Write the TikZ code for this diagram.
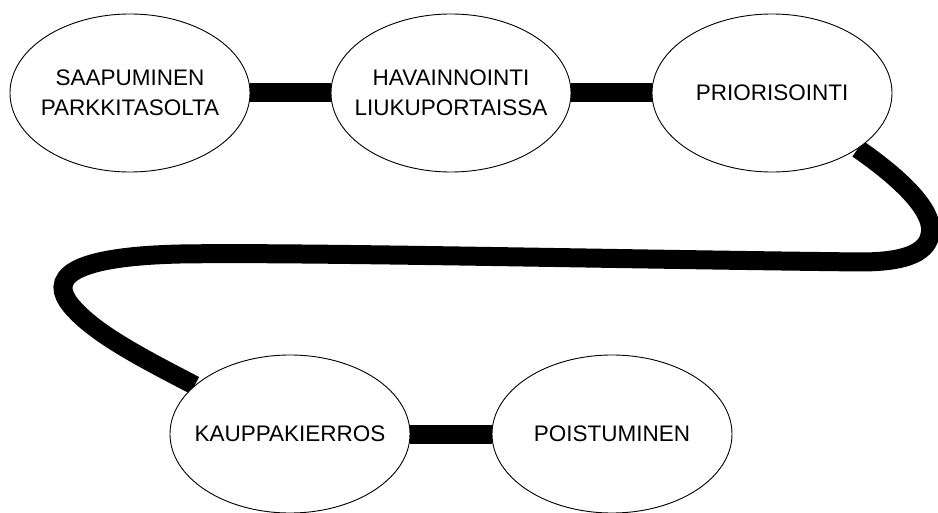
\documentclass[tikz,border=0pt]{standalone}
\usepackage{fontspec}
\setmainfont{Liberation Sans}
\usetikzlibrary{shapes.geometric}
\begin{document}
\begin{tikzpicture}[x=1pt,y=1pt,
  stage/.style={ellipse,draw=black,line width=0.9pt,fill=white,minimum width=240pt,minimum height=158pt,inner sep=0pt},
  ghost/.style={stage,draw=none,fill=none},
  label/.style={align=center,inner sep=0pt,font=\fontsize{22.5}{29.5}\selectfont},
  link/.style={line width=19pt,black}]
\useasboundingbox (0,0) rectangle (938,-513);
\path (130,-93) coordinate (c1) (451,-93) coordinate (c2) (772,-93) coordinate (c3)
      (290,-434) coordinate (c4) (612,-434) coordinate (c5);
% connectors first (drawn beneath the ellipses)
\path (c1) node[ghost] (a) {}
      (c2) node[ghost] (b) {}
      (c3) node[ghost] (c) {}
      (c4) node[ghost] (d) {}
      (c5) node[ghost] (e) {};
\coordinate (r1) at (930,-235);
\coordinate (r2) at (860,-262);
\coordinate (l1) at (180,-254);
\coordinate (l2) at (75,-310);
\draw[link] (a) -- (b);
\draw[link] (b) -- (c);
\draw[link] (d) -- (e);
\draw[link] (c.-33) .. controls (910,-185) and (935,-215) .. (r1)
  .. controls (926,-255) and (900,-262) .. (r2)
  .. controls (600,-259) and (300,-252) .. (l1)
  .. controls (50,-257) and (52,-286) .. (l2)
  .. controls (100,-337) and (150,-362) .. (d.153);
\node[stage] (n1) at (c1) {};
\node[stage] (n2) at (c2) {};
\node[stage] (n3) at (c3) {};
\node[stage] (n4) at (c4) {};
\node[stage] (n5) at (c5) {};
\node[label] (t1) at (n1) {SAAPUMINEN\\PARKKITASOLTA};
\node[label] (t2) at (n2) {HAVAINNOINTI\\LIUKUPORTAISSA};
\node[label] (t3) at (n3) {PRIORISOINTI};
\node[label] (t4) at (n4) {KAUPPAKIERROS};
\node[label] (t5) at (n5) {POISTUMINEN};
\end{tikzpicture}
\end{document}
